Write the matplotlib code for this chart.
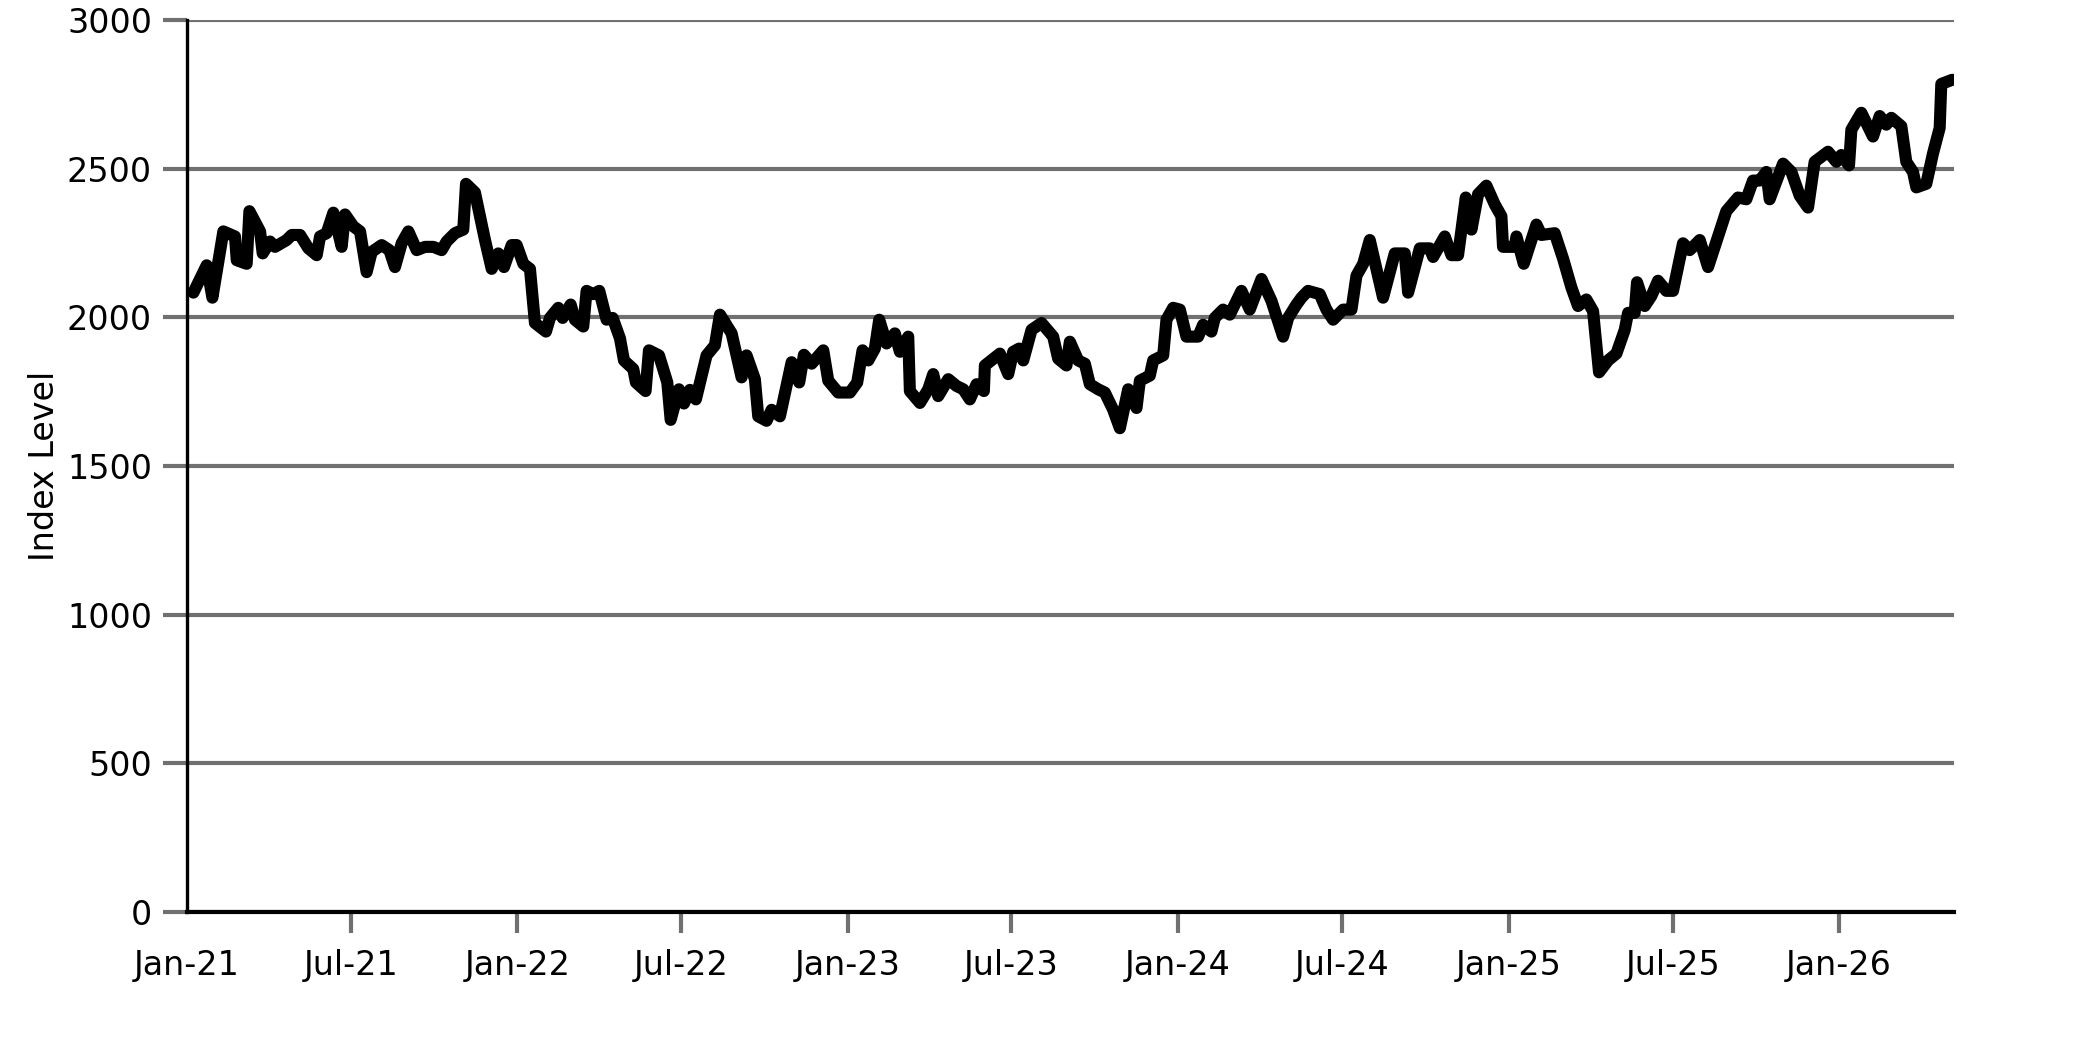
import pandas as pd
import matplotlib.pyplot as plt
import matplotlib.dates as mdates

# days after 2021-01-01
days = [
    7, 21.7, 28, 40.1, 53, 54.9, 65.9, 68.9, 80.7, 83.6, 91.7, 97.2, 110.1, 115.7,
    124.9, 134.1, 143.3, 147, 154.3, 161.7, 170.9, 174.6, 183.8, 191.2, 198.5,
    204.1, 215.1, 223.6, 229.8, 237.2, 244.6, 253.8, 263, 272.2, 281.4, 286.9,
    296.1, 305.3, 308.3, 318.2, 329.3, 336.7, 344, 350.3, 358.8, 364.3, 371.7,
    379, 384.5, 396.7, 401.1, 410.3, 415.1, 424, 428.7, 437.9, 441.6, 449,
    455.6, 463.7, 470.4, 478.5, 482.9, 493.2, 496.1, 506.8, 510.5, 521.6,
    530.8, 534.5, 543.7, 549.2, 555.8, 562.4, 574.2, 583.4, 589, 601.9, 612.9,
    618.4, 627.6, 631.3, 640.5, 646.1, 655.3, 668.2, 676.6, 681.8, 690.3,
    703.2, 708.7, 719.7, 732.6, 740.7, 746.6, 752.9, 760.2, 765, 773.1, 782.3,
    787.9, 797.1, 798.9, 810, 819.2, 824.7, 830.2, 841.3, 850.5, 857.9, 865.2,
    872.6, 880.7, 881.8, 898.4, 907.6, 913.1, 919.7, 924.2, 933.4, 944.4,
    957.3, 962.8, 972, 975.7, 984.9, 992.3, 997.8, 1007, 1014.4, 1023.6, 1031,
    1040.2, 1049.4, 1053.1, 1064.1, 1067.8, 1078.9, 1082.5, 1089.9, 1097.3,
    1104.6, 1117.5, 1123, 1132.2, 1135.9, 1145.1, 1152.5, 1165.4, 1174.6,
    1187.5, 1198.6, 1211.4, 1217, 1226.2, 1231.7, 1239, 1251.9, 1259.3,
    1266.7, 1277.7, 1287, 1292.5, 1299.9, 1307.2, 1321.9, 1334.8, 1345.9,
    1349.6, 1362.5, 1373.5, 1377.2, 1390.1, 1397.5, 1404.8, 1413.3, 1419.6,
    1426.9, 1436.1, 1445.3, 1452.7, 1454.5, 1467.4, 1469.3, 1477.4, 1491.4,
    1496.9, 1511.6, 1520.9, 1530.1, 1537.4, 1546.6, 1554, 1560.6, 1570.6,
    1579.8, 1589, 1592.7, 1600, 1602.6, 1611.1, 1618.5, 1625.8, 1635, 1642.4,
    1647.9, 1653.4, 1660.8, 1671.9, 1681.1, 1692.1, 1701.3, 1714.2, 1723.4,
    1730.8, 1738.2, 1745.5, 1749.2, 1764, 1773.2, 1782.4, 1791.6, 1798.9,
    1813.7, 1822.9, 1828.4, 1836.9, 1839.5, 1850.5, 1863.4, 1870.8, 1878.1,
    1883.7, 1894.7, 1900.2, 1907.6, 1911.3, 1922.3, 1929.7, 1937.1, 1938.9,
    1951,
]
index_level = [
    2083, 2175, 2066, 2289, 2272, 2192, 2180, 2357, 2289, 2215, 2255, 2237, 2260,
    2277, 2277, 2232, 2209, 2272, 2283, 2352, 2237, 2346, 2306, 2289, 2152,
    2220, 2243, 2226, 2169, 2249, 2289, 2226, 2237, 2237, 2226, 2255, 2283,
    2295, 2449, 2420, 2260, 2163, 2215, 2169, 2243, 2243, 2180, 2163, 1981,
    1952, 1998, 2032, 1998, 2043, 1992, 1969, 2089, 2078, 2089, 1992, 1998,
    1929, 1855, 1826, 1781, 1752, 1889, 1872, 1781, 1655, 1758, 1710, 1756,
    1724, 1872, 1906, 2009, 1946, 1798, 1872, 1792, 1667, 1652, 1689, 1667,
    1849, 1781, 1874, 1844, 1889, 1787, 1747, 1747, 1781, 1889, 1855, 1895,
    1992, 1912, 1946, 1884, 1935, 1752, 1712, 1758, 1809, 1735, 1792, 1769,
    1758, 1724, 1775, 1752, 1838, 1878, 1809, 1884, 1895, 1855, 1958, 1981,
    1935, 1861, 1838, 1918, 1855, 1844, 1775, 1758, 1747, 1689, 1627, 1758,
    1695, 1787, 1804, 1855, 1872, 1992, 2032, 2026, 1935, 1935, 1975, 1952,
    1998, 2026, 2009, 2089, 2026, 2129, 2055, 1935, 1998, 2043, 2066, 2089,
    2078, 2026, 1992, 2026, 2026, 2140, 2180, 2260, 2066, 2215, 2215, 2083,
    2232, 2232, 2203, 2272, 2209, 2209, 2403, 2295, 2414, 2443, 2380, 2340,
    2237, 2237, 2272, 2180, 2312, 2277, 2283, 2197, 2100, 2038, 2060, 2021,
    1815, 1855, 1878, 1958, 2015, 2015, 2118, 2038, 2072, 2123, 2089, 2089,
    2169, 2249, 2226, 2260, 2169, 2272, 2357, 2403, 2397, 2460, 2460, 2489,
    2397, 2517, 2489, 2409, 2369, 2523, 2557, 2523, 2546, 2511, 2631, 2688,
    2608, 2677, 2648, 2671, 2643, 2523, 2489, 2437, 2449, 2551, 2637, 2785,
    2799,
]
y_ticks = [0, 500, 1000, 1500, 2000, 2500, 3000]

start = pd.Timestamp("2021-01-01")
dates = start + pd.to_timedelta(days, unit="D")
x_ticks = pd.date_range("2021-01-01", "2026-01-01", freq="6MS")

fig = plt.figure(figsize=(2083 / 300, 1042 / 300), dpi=300)
ax = fig.add_axes([0.0898, 0.1248, 0.8483, 0.856])

ax.plot(dates, index_level, color="black", linewidth=2.9,
        solid_joinstyle="round", solid_capstyle="round", zorder=3)

ax.set_xlim(start, start + pd.Timedelta(days=1953))
ax.set_ylim(0, 3000)
ax.set_yticks(y_ticks)
ax.set_xticks(x_ticks)
ax.xaxis.set_major_formatter(mdates.DateFormatter("%b-%y"))

ax.grid(axis="y", color="#707070", linewidth=1.0)
ax.set_axisbelow(True)

for side in ["top", "right"]:
    ax.spines[side].set_visible(False)
ax.spines["left"].set_linewidth(0.8)
ax.spines["bottom"].set_linewidth(1.0)

ax.tick_params(axis="y", direction="out", length=5.8, width=1.0,
               color="#707070", pad=2.6, labelsize=8)
ax.tick_params(axis="x", direction="out", length=5.0, width=1.0,
               color="#707070", pad=3.8, labelsize=8)
ax.xaxis.get_major_ticks()[0].tick1line.set_visible(False)

ax.set_ylabel("Index Level", fontsize=8, labelpad=1.5)

fig.savefig("out.png", dpi=300)
